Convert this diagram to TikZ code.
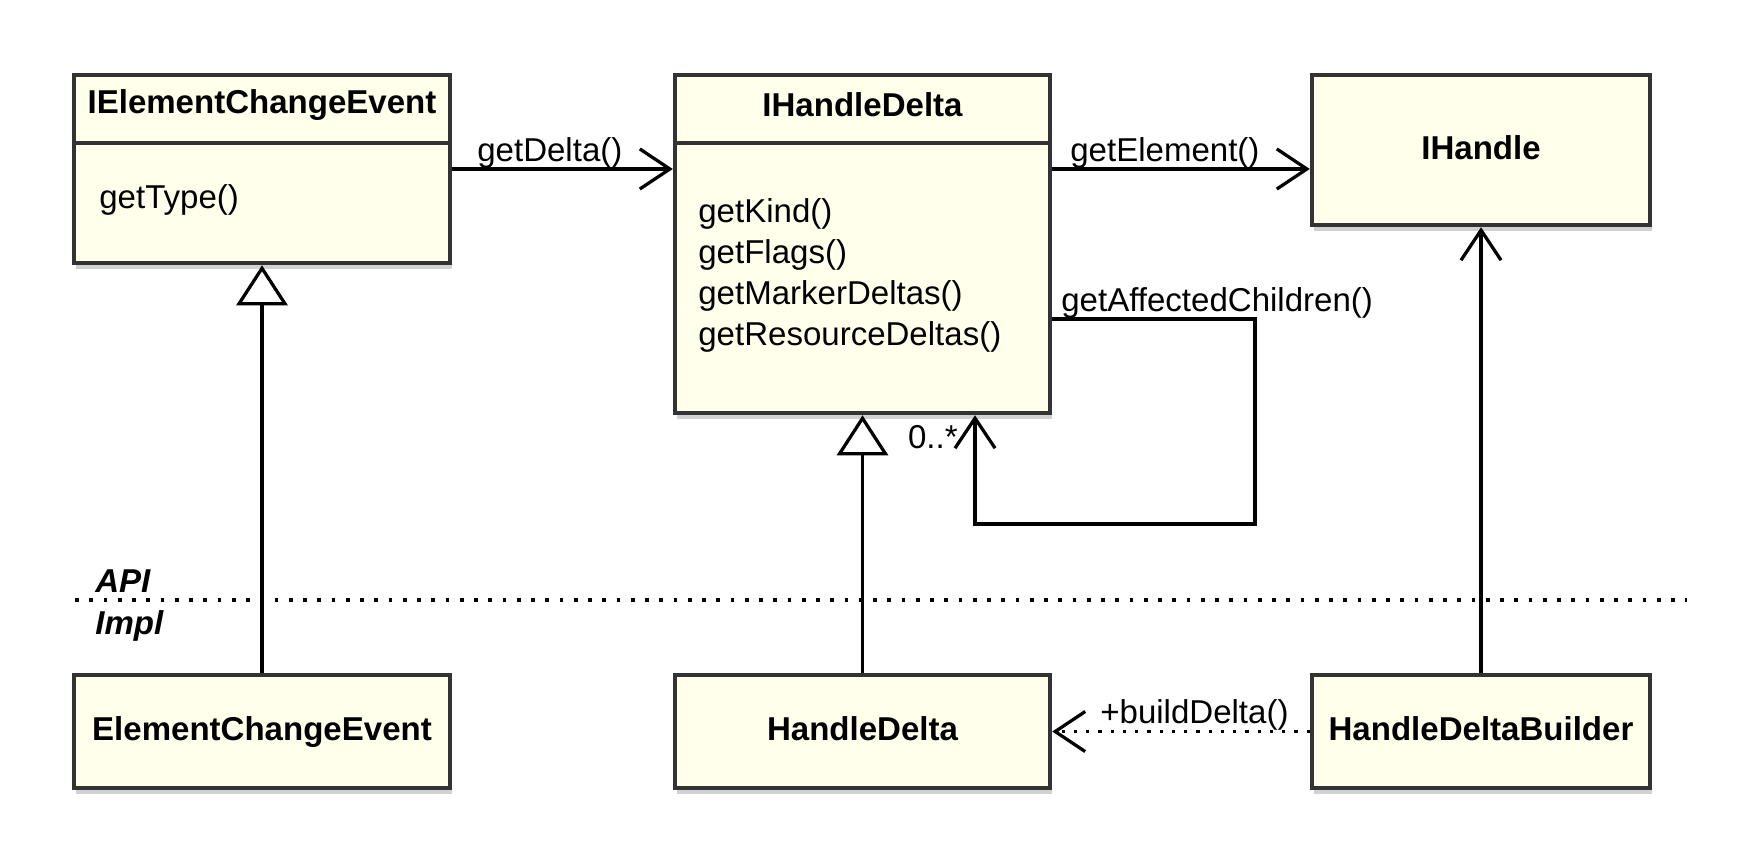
\documentclass[tikz,border=0pt]{standalone}
\usepackage{fontspec}
\setmainfont{Liberation Sans}
\usepackage{tikz}
\usetikzlibrary{arrows.meta,shadows}
\usepackage{xcolor}
\definecolor{boxfill}{RGB}{255,255,236}
\definecolor{boxline}{RGB}{51,51,51}

\begin{document}
\begin{tikzpicture}[
  every node/.style={font=\fontsize{18.8pt}{23.3pt}\selectfont},
  cls/.style={draw=boxline, fill=boxfill, line width=0.09cm, inner sep=0pt, text depth=0.3em,
    font=\fontsize{18.8pt}{23.3pt}\selectfont\bfseries,
    drop shadow={shadow xshift=0.04cm, shadow yshift=-0.12cm, opacity=0.3, fill=black!60}},
  clsname/.style={inner sep=0pt, font=\fontsize{18.8pt}{23.3pt}\selectfont\bfseries},
  lbl/.style={inner sep=0pt},
  assoc/.style={line width=0.065cm, -{Straight Barb[length=0.6cm,width=0.8cm]}},
  inherit/.style={line width=0.065cm, -{Triangle[open,length=0.8cm,width=1.02cm]}},
  dep/.style={assoc, dash pattern=on 0.065cm off 0.18cm},
  sep/.style={line width=0.075cm, dash pattern=on 0.075cm off 0.21cm}
]
\useasboundingbox (0,0) rectangle (35.26,-17.26);

% API interfaces
\node[cls, minimum width=7.52cm, minimum height=3.76cm] (ice) at (5.24,-3.38) {};
\node[clsname] (iceName) at ([yshift=-0.64cm]ice.north) {IElementChangeEvent};
\draw[boxline, line width=0.09cm] ([yshift=-1.4cm]ice.north west) -- ([yshift=-1.4cm]ice.north east);
\node[lbl, anchor=west] (iceOps) at (1.98,-4.0) {getType()};

\node[cls, minimum width=7.5cm, minimum height=6.76cm] (ihd) at (17.25,-4.88) {};
\node[clsname] (ihdName) at ([yshift=-0.64cm]ihd.north) {IHandleDelta};
\draw[boxline, line width=0.09cm] ([yshift=-1.4cm]ihd.north west) -- ([yshift=-1.4cm]ihd.north east);
\node[lbl, anchor=west, align=left] (ihdOps) at (13.96,-5.51)
  {getKind()\\getFlags()\\getMarkerDeltas()\\getResourceDeltas()};

\node[cls, minimum width=6.76cm, minimum height=3cm] (ih) at (29.62,-3.0) {IHandle};

% implementation classes
\node[cls, minimum width=7.52cm, minimum height=2.26cm] (ece) at (5.24,-14.63) {ElementChangeEvent};
\node[cls, minimum width=7.5cm, minimum height=2.26cm] (hd) at (17.25,-14.63) {HandleDelta};
\node[cls, minimum width=6.76cm, minimum height=2.26cm] (hdb) at (29.62,-14.63) {HandleDeltaBuilder};

% API / Impl border
\coordinate (sepL) at (1.5,-12.0);
\coordinate (sepR) at (33.74,-12.0);
\draw[sep] (sepL) -- (sepR);
\node[lbl, anchor=base west, font=\fontsize{18.8pt}{23.3pt}\selectfont\bfseries\itshape] (api) at (1.9,-11.84) {API};
\node[lbl, anchor=base west, font=\fontsize{18.8pt}{23.3pt}\selectfont\bfseries\itshape] (impl) at (1.9,-12.68) {Impl};

% associations
\draw[assoc] (ice.east) -- (ice.east -| ihd.west);
\node[lbl, anchor=base west] (getDelta) at (9.54,-3.22) {getDelta()};
\draw[assoc] (ihd.east |- ice.east) -- (ih.west |- ice.east);
\node[lbl, anchor=base west] (getElement) at (21.4,-3.22) {getElement()};

% self reference
\coordinate (loop) at (25.1,-10.48);
\draw[assoc] ([yshift=-1.5cm]ihd.east) -| (loop) -| ([xshift=2.25cm]ihd.south);
\node[lbl, anchor=base west] (getChildren) at (21.22,-6.22) {getAffectedChildren()};
\node[lbl, anchor=base east] (mult) at (19.16,-8.96) {0..*};

% generalizations
\draw[inherit] (ece.north) -- (ice.south);
\draw[inherit] (hd.north) -- (ihd.south);
\draw[assoc] (hdb.north) -- (ih.south);

% dependency
\draw[dep] (hdb.west) -- (hd.east);
\node[lbl, anchor=base west] (buildDelta) at (22.0,-14.46) {+buildDelta()};
\end{tikzpicture}
\end{document}
